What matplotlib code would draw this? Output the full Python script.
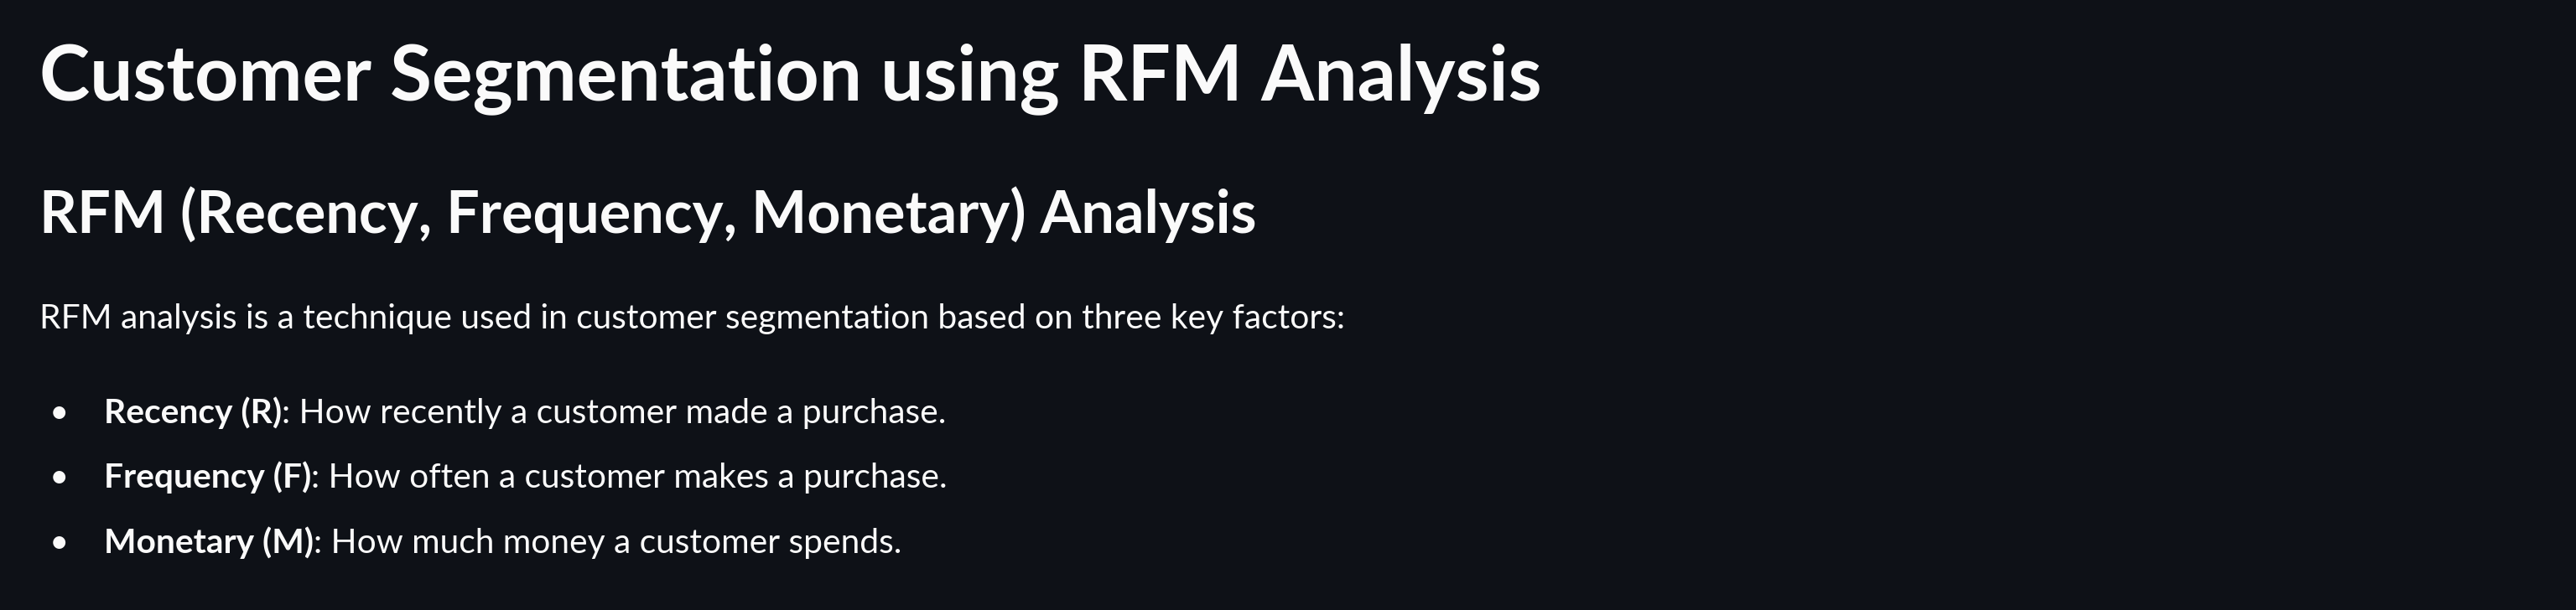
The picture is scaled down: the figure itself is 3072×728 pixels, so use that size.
import matplotlib
matplotlib.use("Agg")
import matplotlib.pyplot as plt

# page content
title = "Customer Segmentation using RFM Analysis"
subtitle = "RFM (Recency, Frequency, Monetary) Analysis"
intro = "RFM analysis is a technique used in customer segmentation based on three key factors:"
bullet_terms = ["Recency (R)", "Frequency (F)", "Monetary (M)"]
bullet_texts = [": How recently a customer made a purchase.",
                ": How often a customer makes a purchase.",
                ": How much money a customer spends."]

BG = "#0e1117"
FG = "#fafafa"
FONT = ["Lato", "DejaVu Sans"]

W, H = 3072, 728
fig = plt.figure(figsize=(W / 100, H / 100), dpi=100, facecolor=BG)


def px(x, y):
    # pixel position (from top-left) -> figure fraction
    return x / W, 1 - y / H


def put(x, y, s, size, weight="normal"):
    fx, fy = px(x, y)
    return fig.text(fx, fy, s, fontsize=size, fontweight=weight, color=FG,
                    family=FONT, ha="left", va="baseline")


put(47, 119, title, 65.5, "bold")
put(47, 278, subtitle, 50.5, "bold")
put(47, 392, intro, 29.3)

renderer = fig.canvas.get_renderer()
baselines = [505, 582, 660]
for term, txt, yb in zip(bullet_terms, bullet_texts, baselines):
    fx, fy = px(70, yb)
    fig.text(fx, fy, "\u2022", fontsize=29, color=FG, family=FONT,
             ha="center", va="baseline")
    t = put(124, yb, term, 29.3, "bold")
    bb = t.get_window_extent(renderer)
    put(bb.x1, yb, txt, 29.3)

fig.savefig("out.png", dpi=100, facecolor=BG)
